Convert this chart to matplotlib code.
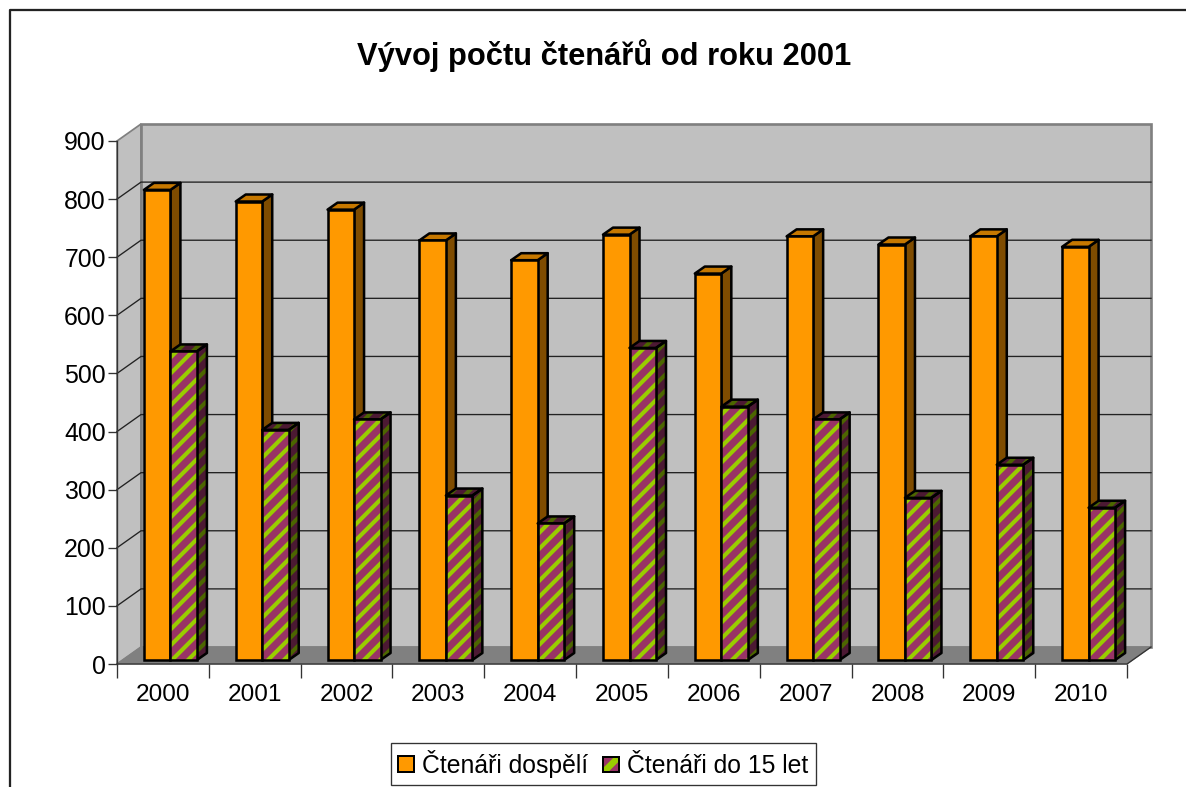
import numpy as np
import matplotlib
matplotlib.use("Agg")
import matplotlib.pyplot as plt
from matplotlib.patches import Polygon, Patch, Rectangle
from matplotlib.lines import Line2D
from matplotlib.legend_handler import HandlerBase

plt.rcParams['font.family'] = ['Liberation Sans', 'DejaVu Sans']
plt.rcParams['hatch.linewidth'] = 3.1

years = ['2000', '2001', '2002', '2003', '2004', '2005', '2006', '2007', '2008', '2009', '2010']
dospeli = [809, 789, 775, 722, 688, 732, 665, 729, 715, 729, 711]
deti = [531, 396, 414, 283, 235, 537, 436, 414, 279, 336, 262]
yticks = [0, 100, 200, 300, 400, 500, 600, 700, 800, 900]

W, H = 1186, 787
DPI = 96
fig = plt.figure(figsize=(W / DPI, H / DPI), dpi=DPI, facecolor='white')

# front plane of the 3d box, in pixels of the picture
left, right, bottom, top = 117, 1127, 664, 141
ax = fig.add_axes([left / W, 1 - bottom / H, (right - left) / W, (bottom - top) / H])
ax.set_xlim(0, 11)
ax.set_ylim(0, 900)
ax.patch.set_visible(False)
for s in ax.spines.values():
    s.set_visible(False)

# data units per pixel
px = 11 / (right - left)
py = 900 / (bottom - top)
wall_dx, wall_dy = 24 * px, 17 * py
GREY = '#808080'

# back wall, side wall, floor
ax.add_patch(Polygon([(0, 900), (wall_dx, 900 + wall_dy), (wall_dx, wall_dy), (0, 0)],
                     fc='#c0c0c0', ec=GREY, lw=1.3, clip_on=False, zorder=1))
ax.add_patch(Polygon([(wall_dx, wall_dy), (11 + wall_dx, wall_dy), (11 + wall_dx, 900 + wall_dy), (wall_dx, 900 + wall_dy)],
                     fc='#c0c0c0', ec=GREY, lw=2, clip_on=False, zorder=1.2))
ax.add_patch(Polygon([(0, 0), (11, 0), (11 + wall_dx, wall_dy), (wall_dx, wall_dy)],
                     fc=GREY, ec=GREY, lw=0.8, clip_on=False, zorder=1.5))

# grid lines on the walls
for v in yticks[1:-1]:
    ax.plot([0, wall_dx, 11 + wall_dx], [v, v + wall_dy, v + wall_dy], color='#222222', lw=1,
            clip_on=False, zorder=2)

# axis lines and ticks
ax.plot([0, 0], [0, 900], color='#333333', lw=1, clip_on=False, zorder=2)
ax.plot([0, 11, 11 + wall_dx], [0, 0, wall_dy], color='#333333', lw=1, clip_on=False, zorder=2)
ax.set_xticks(np.arange(12))
ax.set_xticklabels([])
ax.set_yticks(yticks)
ax.set_yticklabels([str(v) for v in yticks], fontsize=18.7)
ax.tick_params(axis='y', length=6.7, width=1, color='#333333', pad=1.7)
ax.tick_params(axis='x', length=10.8, width=1, color='#333333')
for i, y in enumerate(years):
    ax.text(i + 0.5, -53, y, ha='center', va='center', fontsize=18.3)

# bars
bw = 26.5 * px
base = 4 * py
shift = 7.5 * px
dx, dy = 10 * px, 7 * py
xs = np.arange(11) + 0.5 + shift
EDGE = 1.9


def bar3d(x0, v, front, hatch_c, side, side_h, topc, top_h, z):
    x1 = x0 + bw
    y0 = base
    y1 = base + v
    faces = [
        ([(x1, y0), (x1 + dx, y0 + dy), (x1 + dx, y1 + dy), (x1, y1)], side, side_h),
        ([(x0, y1), (x1, y1), (x1 + dx, y1 + dy), (x0 + dx, y1 + dy)], topc, top_h),
    ]
    for pts, fc, hc in faces:
        if hc:
            ax.add_patch(Polygon(pts, fc=fc, ec=hc, hatch='//', lw=0, zorder=z))
        ax.add_patch(Polygon(pts, fc='none' if hc else fc, ec='black', lw=EDGE, joinstyle='round', zorder=z + 0.1))
    if hatch_c:
        ax.bar(x0, v, bw, bottom=y0, align='edge', color=front, edgecolor=hatch_c, hatch='//', lw=0, zorder=z + 0.2)
        ax.bar(x0, v, bw, bottom=y0, align='edge', color='none', edgecolor='black', lw=EDGE, zorder=z + 0.3)
    else:
        ax.bar(x0, v, bw, bottom=y0, align='edge', color=front, edgecolor='black', lw=EDGE, zorder=z + 0.3)


for i in range(11):
    bar3d(xs[i] - bw, dospeli[i], '#ff9900', None, '#7f4c00', None, '#c67800', None, 3 + i)
    bar3d(xs[i], deti[i], '#993366', '#99cc00', '#4c1933', '#4c6600', '#4c1933', '#4c6600', 3.5 + i)

# title
fig.text(604 / W, 1 - 56 / H, 'Vývoj počtu čtenářů od roku 2001', ha='center', va='center',
         fontsize=23.2, fontweight='bold')

# outer frame, only top and left are in the crop
fig.add_artist(Line2D([10 / W, 10 / W, 1], [0, 1 - 10 / H, 1 - 10 / H], color='#222222', lw=1.7))


# legend key of the striped series: one lime band over purple
class StripedKey(HandlerBase):
    def create_artists(self, legend, orig_handle, xd, yd, w, h, fontsize, trans):
        s = min(w, h)
        x0, y0 = xd * -1 + (w - s) / 2, -yd
        back = Rectangle((x0, y0), s, s, fc='#993366', ec='none', transform=trans)
        band = Polygon([(x0, y0), (x0 + 0.3 * s, y0), (x0 + s, y0 + 0.7 * s), (x0 + s, y0 + s),
                        (x0 + 0.7 * s, y0 + s), (x0, y0 + 0.3 * s)], fc='#99cc00', ec='none', transform=trans)
        frame = Rectangle((x0, y0), s, s, fc='none', ec='black', lw=1.5, transform=trans)
        return [back, band, frame]


leg_handles = [Patch(fc='#ff9900', ec='black', lw=1.5), Patch(fc='#993366')]
leg = fig.legend(leg_handles, ['Čtenáři dospělí', 'Čtenáři do 15 let'], ncol=2, fontsize=18.6,
                 loc='center', bbox_to_anchor=(603.5 / W, 1 - 764 / H), frameon=True, fancybox=False,
                 edgecolor='#333333', framealpha=1, handlelength=0.62, handleheight=0.62,
                 handletextpad=0.35, columnspacing=0.6, borderpad=0.3,
                 handler_map={leg_handles[1]: StripedKey()})
leg.get_frame().set_linewidth(1)

fig.savefig('out.png', dpi=DPI)
